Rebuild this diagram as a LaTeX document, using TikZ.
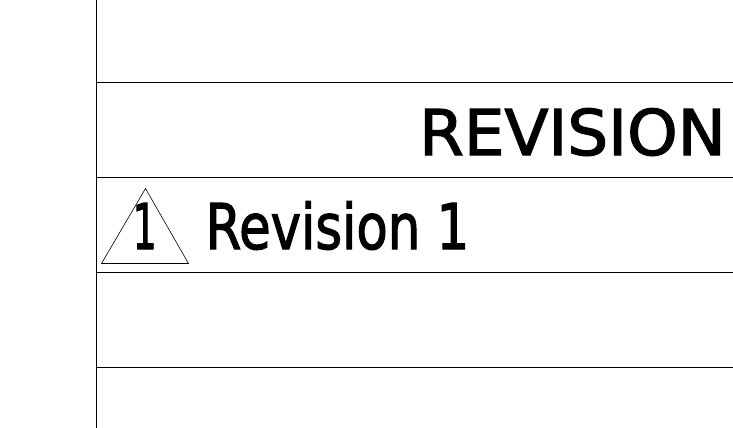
\documentclass[tikz,border=0pt]{standalone}
\usepackage{graphicx}
\usepackage{fontspec}
\setmainfont[FakeBold=2]{DejaVu Sans}
\tikzset{rule/.style={draw=black,line width=0.75pt},
lab/.style={inner sep=0pt,anchor=base west,text=black,font=\fontsize{63}{63}\selectfont}}
\begin{document}
\begin{tikzpicture}[x=1pt,y=-1pt]
\useasboundingbox (0,0) rectangle (733,428);
\fill[white] (0,0) rectangle (733,428);
\coordinate (vt) at (96.5,0); \coordinate (vb) at (96.5,428);
\draw[rule] (vt) -- (vb);
\foreach \y/\n in {82.5/a,177.5/b,272.5/c,367.5/d}{
\coordinate (\n l) at (96.5,\y); \coordinate (\n r) at (733,\y);
\draw[rule] (\n l) -- (\n r);}
\coordinate (t1) at (145.5,188.5); \coordinate (t2) at (188.5,263.5); \coordinate (t3) at (101.5,263.5);
\draw[rule,line width=0.6pt] (t1) -- (t2) -- (t3) -- cycle;
\node[lab] (rev) at (419,155) {\scalebox{1.02}[1]{REVISION}};
\node[lab] (one) at (132.5,249) {\scalebox{0.6}[1]{1}};
\node[lab] (r1) at (205.5,249) {\scalebox{0.815}[1]{Revision 1}};
\end{tikzpicture}
\end{document}
